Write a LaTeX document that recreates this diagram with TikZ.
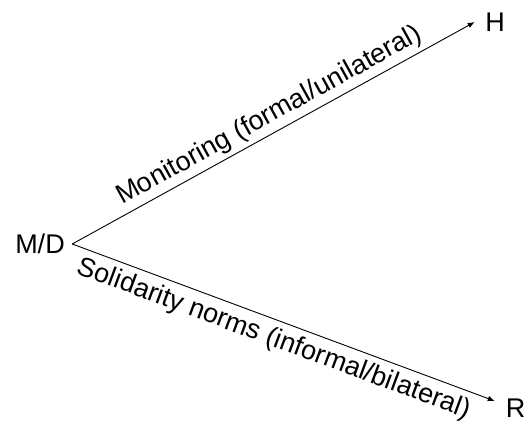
\documentclass[tikz,border=0pt]{standalone}
\usepackage{fontspec}
\setmainfont{Liberation Sans}
\usetikzlibrary{arrows.meta}
\begin{document}
\begin{tikzpicture}[x=1pt,y=-1pt,
  lbl/.style={font=\fontsize{27}{31}\selectfont, text=black},
  conn/.style={draw=black, line width=0.9pt, -{Latex[length=7pt,width=5.5pt]}}]
\useasboundingbox (0,0) rectangle (531,424);
\node[lbl, inner xsep=7.3pt, inner ysep=0pt] (MD) at (40,244) {M/D};
\node[lbl, inner xsep=10.3pt, inner ysep=0pt] (H) at (495,22) {H};
\node[lbl, inner xsep=10.8pt, inner ysep=0pt] (R) at (515.5,408) {R};
\draw[conn] (MD.east) -- (H.west)
  node[lbl, pos=0.51, sloped, above, inner sep=4pt] (mon) {Monitoring (formal/unilateral)};
\draw[conn] (MD.east) -- ([yshift=7pt]R.west)
  node[lbl, pos=0.493, sloped, below, inner sep=6pt] (sol) {Solidarity norms (informal/bilateral)};
\end{tikzpicture}
\end{document}
